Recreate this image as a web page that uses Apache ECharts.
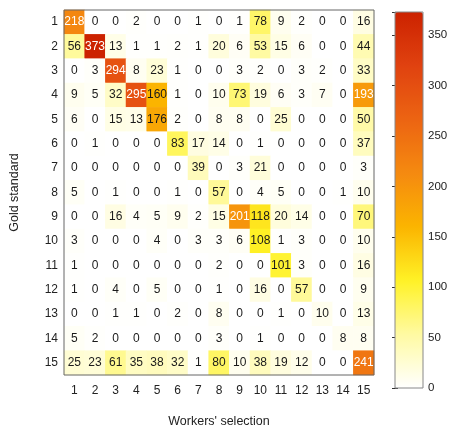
<!DOCTYPE html>
<html>
<head>
<meta charset="utf-8">
<script src="https://cdn.jsdelivr.net/npm/echarts@6/dist/echarts.min.js"></script>
<style>html,body{margin:0;padding:0;background:#fff;}#c{width:451px;height:433px;}</style>
</head>
<body>
<div id="c"></div>
<script>
var categories = ['1','2','3','4','5','6','7','8','9','10','11','12','13','14','15'];
var row1  = [218,0,0,2,0,0,1,0,1,78,9,2,0,0,16];
var row2  = [56,373,13,1,1,2,1,20,6,53,15,6,0,0,44];
var row3  = [0,3,294,8,23,1,0,0,3,2,0,3,2,0,33];
var row4  = [9,5,32,295,160,1,0,10,73,19,6,3,7,0,193];
var row5  = [6,0,15,13,176,2,0,8,8,0,25,0,0,0,50];
var row6  = [0,1,0,0,0,83,17,14,0,1,0,0,0,0,37];
var row7  = [0,0,0,0,0,0,39,0,3,21,0,0,0,0,3];
var row8  = [5,0,1,0,0,1,0,57,0,4,5,0,0,1,10];
var row9  = [0,0,16,4,5,9,2,15,201,118,20,14,0,0,70];
var row10 = [3,0,0,0,4,0,3,3,6,108,1,3,0,0,10];
var row11 = [1,0,0,0,0,0,0,2,0,0,101,3,0,0,16];
var row12 = [1,0,4,0,5,0,0,1,0,16,0,57,0,0,9];
var row13 = [0,0,1,1,0,2,0,8,0,0,1,0,10,0,13];
var row14 = [5,2,0,0,0,0,0,3,0,1,0,0,0,8,8];
var row15 = [25,23,61,35,38,32,1,80,10,38,19,12,0,0,241];
var rows = [row1,row2,row3,row4,row5,row6,row7,row8,row9,row10,row11,row12,row13,row14,row15];
var colorbarTicks = [0,50,100,150,200,250,300,350];
var maxValue = 373;

var data = [];
rows.forEach(function (r, i) {
  r.forEach(function (v, j) {
    data.push({value: [j, i, v], label: {color: v >= 185 ? '#ffffff' : '#1a1a1a'}});
  });
});

var chart = echarts.init(document.getElementById('c'), null, {renderer: 'canvas'});
var font = 'Liberation Sans, Arial, sans-serif';
chart.setOption({
  backgroundColor: '#ffffff',
  animation: false,
  grid: [
    {left: 52, top: 10, width: 322, height: 370, show: true, borderColor: '#666', borderWidth: 1, backgroundColor: 'transparent', z: 5},
    {left: 395, top: 12, width: 28, height: 376, show: true, borderColor: '#888', borderWidth: 1, backgroundColor: 'transparent', z: 5}
  ],
  xAxis: [
    {type: 'category', gridIndex: 0, data: categories, position: 'bottom',
     axisLine: {show: false}, axisTick: {show: false}, splitLine: {show: false},
     axisLabel: {fontFamily: font, fontSize: 12, color: '#222', margin: 10},
     name: "Workers' selection", nameLocation: 'middle', nameGap: 40,
     nameTextStyle: {fontFamily: font, fontSize: 12.5, color: '#222'}},
    {type: 'value', gridIndex: 1, min: 0, max: 1, show: false}
  ],
  yAxis: [
    {type: 'category', gridIndex: 0, data: categories, inverse: true,
     axisLine: {show: false}, axisTick: {show: false}, splitLine: {show: false},
     axisLabel: {fontFamily: font, fontSize: 12, color: '#222', margin: 6},
     name: 'Gold standard', nameLocation: 'middle', nameGap: 43,
     nameTextStyle: {fontFamily: font, fontSize: 12.5, color: '#222'}},
    {type: 'value', gridIndex: 1, min: 0, max: maxValue, interval: 50, position: 'right',
     axisLine: {show: false}, splitLine: {show: false},
     axisTick: {show: true, inside: true, length: 3, lineStyle: {color: '#333'}},
     axisLabel: {fontFamily: font, fontSize: 11.5, color: '#222', margin: 5,
       formatter: function (v) { return colorbarTicks.indexOf(v) >= 0 ? String(v) : ''; }}},
    {type: 'value', gridIndex: 1, min: 0, max: maxValue, interval: 50, position: 'left',
     axisLine: {show: false}, splitLine: {show: false},
     axisTick: {show: true, inside: true, length: 3, lineStyle: {color: '#333'}},
     axisLabel: {show: false}}
  ],
  visualMap: {
    type: 'continuous', min: 0, max: maxValue, seriesIndex: 0,
    left: 395, top: 12, itemWidth: 28, itemHeight: 376, padding: 0,
    calculable: false, realtime: false, hoverLink: false,
    text: null, showLabel: false,
    inRange: {color: ['#ffffff', '#fffaa2', '#fff226', '#fbb400', '#f58a10', '#ec6412', '#e04210', '#cc2200']}
  },
  series: [{
    type: 'heatmap', xAxisIndex: 0, yAxisIndex: 0, data: data,
    label: {show: true, fontFamily: font, fontSize: 12, formatter: function (p) { return p.value[2]; }},
    itemStyle: {borderWidth: 0},
    emphasis: {disabled: true}
  }]
});
</script>
</body>
</html>
